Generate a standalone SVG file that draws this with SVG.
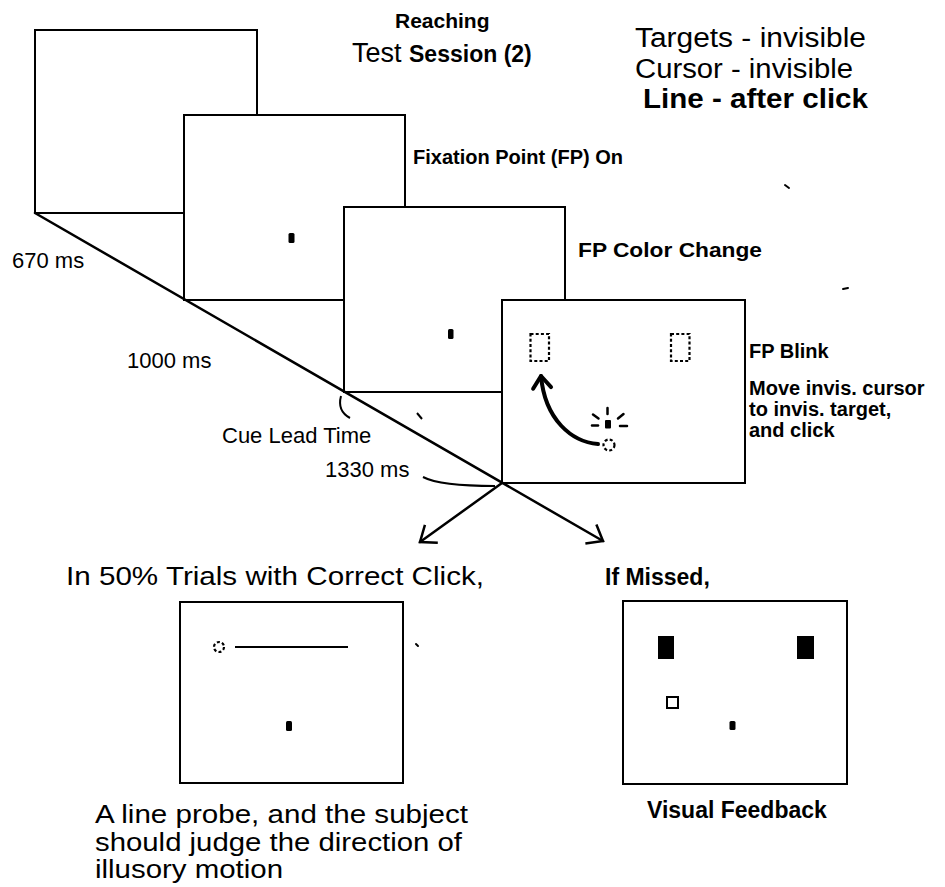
<svg xmlns="http://www.w3.org/2000/svg" width="945" height="887" viewBox="0 0 945 887">
  <defs>
    <style>
      .frame{fill:#fff;stroke:#000;stroke-width:2}
      .t{font-family:"Liberation Sans",Arial,Helvetica,sans-serif;fill:#000}
      .b{font-weight:bold}
      .dash{fill:none;stroke:#000;stroke-width:2.2;stroke-dasharray:3 2.2}
      .ln{fill:none;stroke:#000;stroke-width:2.5;stroke-linecap:round}
      .fp{fill:#000}
    </style>
    <marker id="chevron" markerUnits="userSpaceOnUse" viewBox="-20 -16 24 32" markerWidth="24" markerHeight="32" refX="0" refY="0" orient="auto">
      <path d="M-14,-11 L0,0 L-14,11" fill="none" stroke="#000" stroke-width="2.5"/>
    </marker>
    <marker id="curlHead" markerUnits="userSpaceOnUse" viewBox="-20 -16 24 32" markerWidth="24" markerHeight="32" refX="0" refY="0" orient="auto">
      <path d="M-12,-9 L0,0 L-12,9" fill="none" stroke="#000" stroke-width="4" stroke-linecap="round" stroke-linejoin="round"/>
    </marker>
  </defs>

  <!-- title block -->
  <g id="title">
    <text class="t b" x="395" y="28" font-size="21">Reaching</text>
    <text class="t" x="352" y="62"><tspan font-size="27">Test </tspan><tspan class="b" font-size="23">Session (2)</tspan></text>
  </g>
  <g id="conditions">
    <text class="t" x="635" y="47" font-size="27" textLength="231" lengthAdjust="spacingAndGlyphs">Targets - invisible</text>
    <text class="t" x="635" y="78" font-size="27" textLength="218" lengthAdjust="spacingAndGlyphs">Cursor - invisible</text>
    <text class="t b" x="643" y="108" font-size="27" textLength="225" lengthAdjust="spacingAndGlyphs">Line - after click</text>
  </g>

  <!-- stacked screens, back to front -->
  <g id="screen-blank">
    <rect class="frame" x="35" y="30" width="222" height="183"/>
  </g>
  <g id="screen-fixation">
    <rect class="frame" x="184" y="115" width="221" height="185"/>
    <rect class="fp" x="288.5" y="233" width="6" height="10" rx="1.5"/>
    <text class="t b" x="413" y="164" font-size="20">Fixation Point (FP) On</text>
  </g>
  <g id="screen-color-change">
    <rect class="frame" x="344" y="207" width="221" height="185"/>
    <rect class="fp" x="448" y="329" width="5.5" height="10" rx="1.5"/>
    <text class="t b" x="578" y="257" font-size="21" textLength="184" lengthAdjust="spacingAndGlyphs">FP Color Change</text>
  </g>
  <g id="screen-blink">
    <rect class="frame" x="502" y="300" width="243" height="183"/>
    <rect class="dash" x="530.5" y="334" width="18.5" height="27"/>
    <rect class="dash" x="671" y="334" width="18.5" height="27"/>
    <!-- blinking fixation point -->
    <rect class="fp" x="605" y="420" width="6" height="8.5" rx="1"/>
    <g class="ln" stroke="#000" stroke-width="2.4">
      <line x1="607.5" y1="408" x2="607.5" y2="414"/>
      <line x1="592" y1="425.5" x2="598" y2="425.5"/>
      <line x1="620" y1="426" x2="627" y2="426"/>
      <line x1="593" y1="414.5" x2="598.5" y2="418.5"/>
      <line x1="618" y1="418.5" x2="623.5" y2="414"/>
    </g>
    <circle class="dash" cx="609" cy="445" r="5.5" stroke-dasharray="2.5 2"/>
    <!-- cursor movement -->
    <path d="M598,444 C572,442 545,420 541,376" fill="none" stroke="#000" stroke-width="4" stroke-linecap="round" marker-end="url(#curlHead)"/>
    <text class="t b" x="749" y="358" font-size="20">FP Blink</text>
    <text class="t b" font-size="20">
      <tspan x="749" y="395">Move invis. cursor</tspan>
      <tspan x="749" y="416">to invis. target,</tspan>
      <tspan x="749" y="437">and click</tspan>
    </text>
  </g>

  <!-- time axis and branches -->
  <g id="connectors">
    <line class="ln" x1="35" y1="213" x2="603" y2="541" marker-end="url(#chevron)"/>
    <line class="ln" x1="502" y1="483" x2="420" y2="542" marker-end="url(#chevron)"/>
    <path d="M341,396 Q337,411 350,418" fill="none" stroke="#000" stroke-width="2"/>
    <path d="M423,477 Q440,486 495,486" fill="none" stroke="#000" stroke-width="2"/>
    <line x1="417" y1="413" x2="422" y2="419" stroke="#000" stroke-width="2"/>
  </g>
  <g id="timing-labels">
    <text class="t" x="12" y="268" font-size="22">670 ms</text>
    <text class="t" x="127" y="368" font-size="22">1000 ms</text>
    <text class="t" x="222" y="443" font-size="22">Cue Lead Time</text>
    <text class="t" x="325" y="477" font-size="22">1330 ms</text>
  </g>

  <!-- outcome on a correct click -->
  <g id="screen-line-probe">
    <text class="t" x="66" y="585" font-size="26" textLength="418" lengthAdjust="spacingAndGlyphs">In 50% Trials with Correct Click,</text>
    <rect class="frame" x="180" y="602" width="223" height="181"/>
    <circle class="dash" cx="219" cy="647" r="5" stroke-dasharray="2.5 2"/>
    <line x1="235" y1="647" x2="348" y2="647" stroke="#000" stroke-width="2"/>
    <rect class="fp" x="286" y="721" width="6" height="10" rx="1.5"/>
    <text class="t" font-size="26" lengthAdjust="spacingAndGlyphs">
      <tspan x="95" y="823" textLength="373" lengthAdjust="spacingAndGlyphs">A line probe, and the subject</tspan>
      <tspan x="95" y="851" textLength="367" lengthAdjust="spacingAndGlyphs">should judge the direction of</tspan>
      <tspan x="95" y="878" textLength="188" lengthAdjust="spacingAndGlyphs">illusory motion</tspan>
    </text>
  </g>

  <!-- outcome on a missed click -->
  <g id="screen-feedback">
    <text class="t b" x="605" y="585" font-size="23">If Missed,</text>
    <rect class="frame" x="623" y="601" width="224" height="183"/>
    <rect class="fp" x="658" y="636" width="16" height="23"/>
    <rect class="fp" x="797" y="636" width="17" height="23"/>
    <rect x="667" y="697" width="11" height="11" fill="none" stroke="#000" stroke-width="2"/>
    <rect class="fp" x="729.5" y="721" width="6" height="9" rx="1.5"/>
    <text class="t b" x="647" y="818" font-size="23">Visual Feedback</text>
  </g>

  <!-- small marks -->
  <g id="marks" stroke="#000" stroke-width="2" stroke-linecap="round">
    <line x1="785" y1="185" x2="789" y2="188"/>
    <line x1="843" y1="289" x2="848" y2="288"/>
    <line x1="416" y1="644" x2="418" y2="646"/>
  </g>
</svg>
